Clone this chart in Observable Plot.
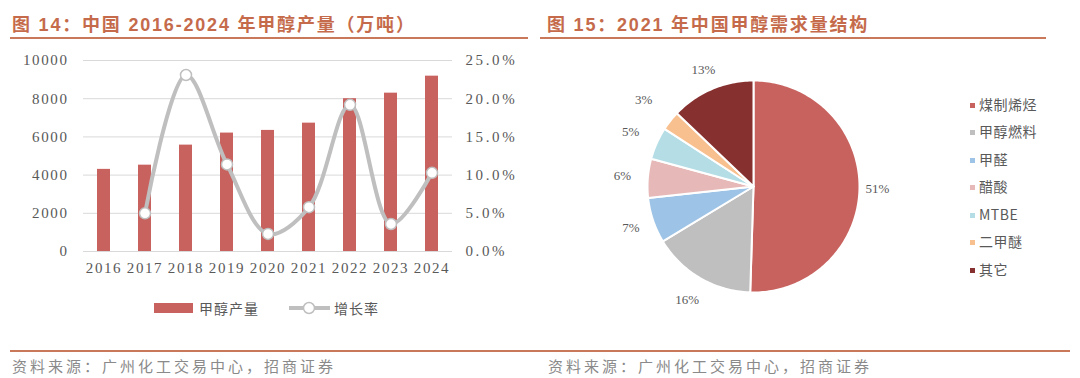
<!DOCTYPE html>
<html>
<head>
<meta charset="utf-8">
<script src="https://cdn.jsdelivr.net/npm/d3@7"></script>
<script src="https://cdn.jsdelivr.net/npm/@observablehq/plot@0.6"></script>
<style>
  html, body { margin: 0; padding: 0; background: #fff; }
  #root { position: relative; width: 1080px; height: 378px; overflow: hidden; font-family: "Noto Sans CJK SC", sans-serif; }
  .title { position: absolute; top: 10px; font-family: "Liberation Sans", "Noto Sans CJK SC", sans-serif; font-size: 18px; font-weight: bold; color: #C56B4B; letter-spacing: 1.8px; white-space: nowrap; }
  .rule { position: absolute; height: 2px; background: #C9785A; }
  .src { position: absolute; top: 355px; font-size: 15px; color: #8a8a8a; letter-spacing: 3px; white-space: nowrap; }
  .abs { position: absolute; }
  .leg { position: absolute; font-size: 14px; color: #595959; white-space: nowrap; letter-spacing: 1px; }
  .pleg { position: absolute; left: 970px; font-size: 14px; color: #595959; white-space: nowrap; line-height: 14px; letter-spacing: 0.5px; }
  .pleg i { display: inline-block; width: 5px; height: 5px; margin-right: 4px; vertical-align: middle; position: relative; top: -1px; }
  #left svg text { letter-spacing: 1.6px; }
  #left svg g[text-anchor="start"] text { letter-spacing: 2.6px; }
</style>
</head>
<body>
<div id="root">
  <div class="title" style="left:12px;">图 14：中国 2016-2024 年甲醇产量（万吨）</div>
  <div class="title" style="left:547px;">图 15：2021 年中国甲醇需求量结构</div>
  <div class="rule" style="left:10px; width:518px; top:37px;"></div>
  <div class="rule" style="left:540px; width:506px; top:37px;"></div>
  <div class="rule" style="left:10px; width:1060px; top:350px;"></div>
  <div class="src" style="left:12px;">资料来源：广州化工交易中心，招商证券</div>
  <div class="src" style="left:548px;">资料来源：广州化工交易中心，招商证券</div>
  <div id="left" class="abs" style="left:0; top:40px;"></div>
  <div id="right" class="abs" style="left:540px; top:40px;"></div>
  <div id="leg1"></div>
  <div id="leg2"></div>
</div>
<script>
// ---- Data: Figure 14 ----
const years = ["2016","2017","2018","2019","2020","2021","2022","2023","2024"];
const output = [4300, 4520, 5570, 6200, 6340, 6720, 8000, 8290, 9180];       // 万吨
const growthYears = ["2017","2018","2019","2020","2021","2022","2023","2024"];
const growth = [5.0, 23.1, 11.4, 2.3, 5.8, 19.2, 3.6, 10.3];                   // %
const leftTicks = [0, 2000, 4000, 6000, 8000, 10000];
const rightTicks = [0, 5, 10, 15, 20, 25];

// ---- Data: Figure 15 ----
const pieCats = ["煤制烯烃", "甲醇燃料", "甲醛", "醋酸", "MTBE", "二甲醚", "其它"];
const pieVals = [51, 16, 7, 6, 5, 3, 13];
const pieColors = ["#C8625F", "#BFBFBF", "#9DC3E6", "#E6B9B8", "#B4DDE6", "#F8C08F", "#86302F"];

const barColor = "#C8625F";
const lineColor = "#BFBFBF";
const tickColor = "#595959";

// ---- Left chart ----
const scaleFactor = 10000 / 25; // 25% maps to 10000
const bars = years.map((y, i) => ({year: y, value: output[i]}));
const rates = growthYears.map((y, i) => ({year: y, rate: growth[i]}));

const left = Plot.plot({
  width: 540,
  height: 250,
  marginLeft: 83,
  marginRight: 88,
  marginTop: 20,
  marginBottom: 39,
  style: {fontFamily: "'Liberation Serif', serif", fontSize: "15px", color: tickColor, background: "transparent"},
  x: {domain: years, paddingInner: 0.68, paddingOuter: 0.34},
  y: {domain: [0, 10000]},
  marks: [
    Plot.ruleY(leftTicks, {stroke: "#D9D9D9", strokeWidth: 1}),
    Plot.barY(bars, {x: "year", y: "value", fill: barColor}),
    Plot.line(rates, {x: "year", y: d => d.rate * scaleFactor, stroke: lineColor, strokeWidth: 4, curve: "catmull-rom"}),
    Plot.dot(rates, {x: "year", y: d => d.rate * scaleFactor, r: 5.5, fill: "white", stroke: lineColor, strokeWidth: 1.5}),
    Plot.axisX({tickSize: 0, tickPadding: 11, label: null, fontSize: 15}),
    Plot.axisY(leftTicks, {anchor: "left", tickSize: 0, tickPadding: 15, label: null, tickFormat: d => String(d), fontSize: 15}),
    Plot.axisY(rightTicks.map(t => t * scaleFactor), {anchor: "right", tickSize: 0, tickPadding: 13, label: null,
      tickFormat: d => (d / scaleFactor).toFixed(1) + "%", fontSize: 15})
  ]
});
document.getElementById("left").appendChild(left);

// left legend
document.getElementById("leg1").innerHTML = `
  <div class="abs" style="left:154px; top:303px; width:39px; height:10px; background:${barColor};"></div>
  <div class="leg" style="left:199px; top:298px;">甲醇产量</div>
  <svg class="abs" style="left:288px; top:298px;" width="44" height="20">
    <line x1="1" y1="10" x2="42" y2="10" stroke="${lineColor}" stroke-width="4"/>
    <circle cx="21" cy="10" r="5.5" fill="white" stroke="${lineColor}" stroke-width="1.5"/>
  </svg>
  <div class="leg" style="left:334px; top:298px;">增长率</div>`;

// ---- Right chart (pie) ----
const arcs = d3.pie().sort(null).value(d => d)(pieVals);
// polygon vertices in unit-circle data space, clockwise from 12 o'clock
const polys = [];
arcs.forEach((a, i) => {
  const n = Math.max(4, Math.ceil((a.endAngle - a.startAngle) / 0.02));
  polys.push({cat: pieCats[i], px: 0, py: 0});
  for (let k = 0; k <= n; k++) {
    const t = a.startAngle + (a.endAngle - a.startAngle) * k / n;
    polys.push({cat: pieCats[i], px: Math.sin(t), py: Math.cos(t)});
  }
});
const labelR = [1.17, 1.24, 1.22, 1.24, 1.27, 1.32, 1.2];
const labels = arcs.map((a, i) => {
  const m = (a.startAngle + a.endAngle) / 2;
  return {text: pieVals[i] + "%", lx: Math.sin(m) * labelR[i], ly: Math.cos(m) * labelR[i]};
});

const cx = 213, cy = 146, R = 106;
const right = Plot.plot({
  width: 540,
  height: 300,
  margin: 0,
  style: {fontFamily: "'Liberation Serif', serif", background: "transparent"},
  x: {domain: [-1, 1], range: [cx - R, cx + R], axis: null},
  y: {domain: [-1, 1], range: [cy + R, cy - R], axis: null},
  color: {domain: pieCats, range: pieColors},
  marks: [
    Plot.line(polys, {x: "px", y: "py", z: "cat", fill: "cat", stroke: "white", strokeWidth: 2, curve: "linear-closed"}),
    Plot.text(labels, {x: "lx", y: "ly", text: "text", fill: tickColor, fontSize: 13, textAnchor: "middle"})
  ]
});
document.getElementById("right").appendChild(right);

// pie legend
const legTops = [97, 124, 152, 179, 207, 234, 262];
document.getElementById("leg2").innerHTML = pieCats.map((c, i) =>
  `<div class="pleg" style="top:${legTops[i]}px;"><i style="background:${pieColors[i]}"></i>${c}</div>`).join("");
</script>
</body>
</html>
